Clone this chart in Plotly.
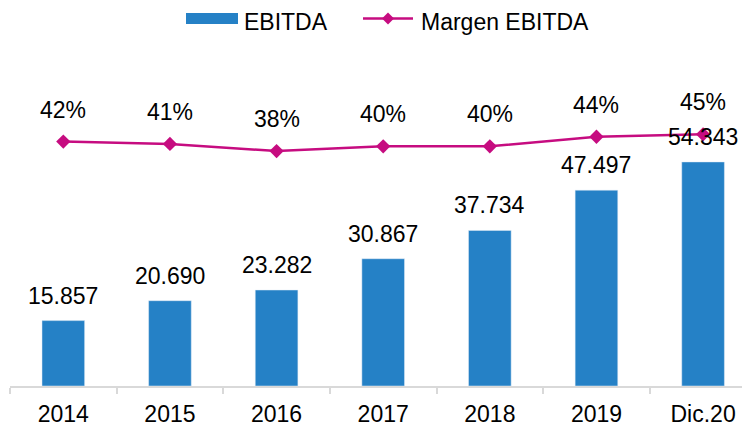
import plotly.graph_objects as go

categories = ["2014", "2015", "2016", "2017", "2018", "2019", "Dic.20"]
ebitda = [15857, 20690, 23282, 30867, 37734, 47497, 54343]
ebitda_labels = ["15.857", "20.690", "23.282", "30.867", "37.734", "47.497", "54.343"]
margen = [0.42, 0.41, 0.38, 0.40, 0.40, 0.44, 0.45]
margen_labels = ["42%", "41%", "38%", "40%", "40%", "44%", "45%"]
series_names = ["EBITDA", "Margen EBITDA"]

BLUE = "#2581C6"
MAG = "#C60C80"
FONT = "Liberation Sans, Arial, Helvetica, sans-serif"

W, H = 742, 420
ML, MR, MT, MB = 2, 0, 37, 42
PW, PH = W - ML - MR, H - MT - MB


def px(fx):
    return (fx - ML) / PW


def py(fy):
    return 1 - (fy - MT) / PH


fig = go.Figure()
fig.add_trace(go.Bar(
    x=categories, y=ebitda, name=series_names[0], marker_color=BLUE, width=0.4,
))
fig.add_trace(go.Scatter(
    x=categories, y=margen, name=series_names[1], yaxis="y2",
    mode="lines+markers", line=dict(color=MAG, width=2.5),
    marker=dict(symbol="diamond", size=11, color=MAG),
))

for i, (v, t) in enumerate(zip(ebitda, ebitda_labels)):
    fig.add_annotation(x=i, y=v, text=t, showarrow=False, yanchor="bottom",
                       yshift=10, font=dict(size=23, color="#000000", family=FONT))
for i, (v, t) in enumerate(zip(margen, margen_labels)):
    fig.add_annotation(x=i, y=v, yref="y2", text=t, showarrow=False, yanchor="bottom",
                       yshift=17, font=dict(size=23, color="#000000", family=FONT))

# legend (drawn manually so that it sits at the very top)
LY = 10.5
TY = 13.5
fig.add_shape(type="rect", xref="paper", yref="paper",
              x0=px(178), x1=px(230), y0=py(LY + 5.5), y1=py(LY - 5.5),
              fillcolor=BLUE, line=dict(width=0))
fig.add_annotation(xref="paper", yref="paper", x=px(235), y=py(TY), text=series_names[0],
                   showarrow=False, xanchor="left", yanchor="middle", borderpad=0,
                   font=dict(size=23, color="#000000", family=FONT))
fig.add_shape(type="line", xref="paper", yref="paper",
              x0=px(355), x1=px(405), y0=py(LY), y1=py(LY),
              line=dict(color=MAG, width=2.5))
d = 6
cx = 380
fig.add_shape(type="path", xref="paper", yref="paper",
              path=f"M {px(cx)},{py(LY - d)} L {px(cx + d)},{py(LY)} L {px(cx)},{py(LY + d)} L {px(cx - d)},{py(LY)} Z",
              fillcolor=MAG, line=dict(width=0))
fig.add_annotation(xref="paper", yref="paper", x=px(412), y=py(TY), text=series_names[1],
                   showarrow=False, xanchor="left", yanchor="middle", borderpad=0,
                   font=dict(size=23, color="#000000", family=FONT))

fig.update_layout(
    width=W, height=H,
    margin=dict(l=ML, r=MR, t=MT, b=MB),
    paper_bgcolor="white", plot_bgcolor="white",
    font=dict(family=FONT, size=23, color="#000000"),
    showlegend=False,
    xaxis=dict(type="category", range=[-0.5, 6.44], showline=True, linecolor="#D9D9D9",
               linewidth=2, ticks="outside", tickson="boundaries", ticklen=6,
               tickcolor="#D9D9D9", tickwidth=2, showgrid=False, tickfont=dict(size=23),
               ticklabelstandoff=6),
    yaxis=dict(range=[0, 82700], visible=False, showgrid=False),
    yaxis2=dict(range=[-0.603, 0.824], overlaying="y", side="right", visible=False,
                showgrid=False),
)

fig.write_html("out.html")
